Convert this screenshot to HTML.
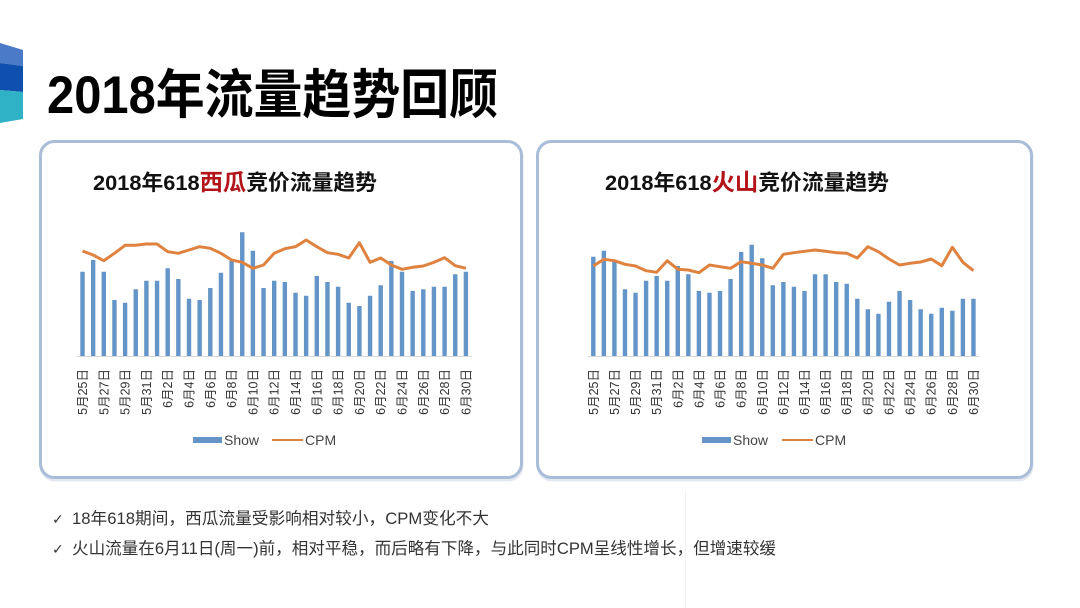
<!DOCTYPE html>
<html><head><meta charset="utf-8"><style>
html,body{margin:0;padding:0;background:#fff;}
svg{display:block;}
.t{font-family:"Liberation Sans","Noto Sans CJK SC",sans-serif;}
</style></head><body>
<svg width="1080" height="608" viewBox="0 0 1080 608" xmlns="http://www.w3.org/2000/svg" class="t">
<rect width="1080" height="608" fill="#fff"/>
<!-- decor -->
<polygon points="0,43 23,50 23,66 0,63" fill="#4a7ac8"/>
<polygon points="0,63 23,66 23,92 0,90" fill="#0f4fae"/>
<polygon points="0,90 23,92 23,119 0,123" fill="#2fb2c6"/>
<text x="47" y="113" font-size="53" font-weight="bold" fill="#000" textLength="451" lengthAdjust="spacingAndGlyphs">2018年流量趋势回顾</text>

<!-- boxes -->
<rect x="41" y="143" width="481" height="337" rx="14" fill="none" stroke="#e3e8f0" stroke-width="3"/>
<rect x="40.5" y="141.5" width="481" height="336" rx="14" fill="#fff" stroke="#a9bcd8" stroke-width="3"/>
<rect x="538" y="143" width="494" height="337" rx="14" fill="none" stroke="#e3e8f0" stroke-width="3"/>
<rect x="537.5" y="141.5" width="494" height="336" rx="14" fill="#fff" stroke="#a9bcd8" stroke-width="3"/>

<!-- chart titles -->
<text x="93" y="190" font-size="21.5" font-weight="bold" fill="#111" textLength="284" lengthAdjust="spacingAndGlyphs">2018年618<tspan fill="#b3141a" font-size="23">西瓜</tspan>竞价流量趋势</text>
<text x="605" y="190" font-size="21.5" font-weight="bold" fill="#111" textLength="284" lengthAdjust="spacingAndGlyphs">2018年618<tspan fill="#b3141a" font-size="23">火山</tspan>竞价流量趋势</text>

<!-- chart 1 -->
<line x1="77" y1="356.5" x2="472" y2="356.5" stroke="#d9d9d9" stroke-width="1"/>
<path fill="none" stroke="#6395c9" stroke-width="4.4" d="M82.5 356V271.7M93.15 356V260M103.8 356V271.7M114.45 356V300M125.1 356V302.7M135.75 356V289.3M146.4 356V280.7M157.05 356V280.7M167.7 356V268.3M178.35 356V279M189 356V298.7M199.65 356V300M210.3 356V288M220.95 356V272.7M231.6 356V260.7M242.25 356V232.3M252.9 356V250.7M263.55 356V288M274.2 356V280.7M284.85 356V282M295.5 356V292.7M306.15 356V295.7M316.8 356V276M327.45 356V282M338.1 356V286.7M348.75 356V302.7M359.4 356V306M370.05 356V295.7M380.7 356V285.3M391.35 356V261M402 356V271.7M412.65 356V291M423.3 356V289.3M433.95 356V286.7M444.6 356V286.7M455.25 356V274.3M465.9 356V271.7"/>
<polyline fill="none" stroke="#e0823f" stroke-width="3" stroke-linejoin="round" points="82.5,251 93.15,255 103.8,260.7 114.45,253.3 125.1,245.3 135.75,245.3 146.4,244 157.05,244 167.7,251.7 178.35,253.3 189,250 199.65,246.7 210.3,248.3 220.95,253.3 231.6,260 242.25,262.3 252.9,268.3 263.55,265 274.2,253.3 284.85,248.7 295.5,246.7 306.15,240 316.8,246.7 327.45,252.7 338.1,254.3 348.75,258 359.4,242.7 370.05,262.3 380.7,258 391.35,265 402,269.3 412.65,267.3 423.3,266 433.95,262.3 444.6,257.7 455.25,265.7 465.9,268.3"/>
<g font-size="12.5" fill="#333" text-anchor="end">
<text transform="translate(87,369) rotate(-90)">5月25日</text>
<text transform="translate(108.3,369) rotate(-90)">5月27日</text>
<text transform="translate(129.6,369) rotate(-90)">5月29日</text>
<text transform="translate(150.9,369) rotate(-90)">5月31日</text>
<text transform="translate(172.2,369) rotate(-90)">6月2日</text>
<text transform="translate(193.5,369) rotate(-90)">6月4日</text>
<text transform="translate(214.8,369) rotate(-90)">6月6日</text>
<text transform="translate(236.1,369) rotate(-90)">6月8日</text>
<text transform="translate(257.4,369) rotate(-90)">6月10日</text>
<text transform="translate(278.7,369) rotate(-90)">6月12日</text>
<text transform="translate(300,369) rotate(-90)">6月14日</text>
<text transform="translate(321.3,369) rotate(-90)">6月16日</text>
<text transform="translate(342.6,369) rotate(-90)">6月18日</text>
<text transform="translate(363.9,369) rotate(-90)">6月20日</text>
<text transform="translate(385.2,369) rotate(-90)">6月22日</text>
<text transform="translate(406.5,369) rotate(-90)">6月24日</text>
<text transform="translate(427.8,369) rotate(-90)">6月26日</text>
<text transform="translate(449.1,369) rotate(-90)">6月28日</text>
<text transform="translate(470.4,369) rotate(-90)">6月30日</text>
</g>
<rect x="193" y="437" width="29" height="6" fill="#6395c9"/>
<text x="224" y="445" font-size="14" fill="#444">Show</text>
<line x1="272" y1="440" x2="303" y2="440" stroke="#e0823f" stroke-width="2"/>
<text x="305" y="445" font-size="14" fill="#444">CPM</text>

<!-- chart 2 -->
<line x1="588" y1="356.5" x2="979" y2="356.5" stroke="#d9d9d9" stroke-width="1"/>
<path fill="none" stroke="#6395c9" stroke-width="4.4" d="M593.3 356V256.7M603.86 356V250.7M614.42 356V261.7M624.98 356V289.3M635.54 356V292.7M646.1 356V280.7M656.66 356V276M667.22 356V280.7M677.78 356V266M688.34 356V274.3M698.9 356V291M709.46 356V292.7M720.02 356V291M730.58 356V279M741.14 356V252M751.7 356V244.7M762.26 356V258.3M772.82 356V285.3M783.38 356V282M793.94 356V286.7M804.5 356V291M815.06 356V274.3M825.62 356V274.3M836.18 356V282M846.74 356V283.7M857.3 356V298.7M867.86 356V309.3M878.42 356V313.7M888.98 356V301.7M899.54 356V291M910.1 356V300M920.66 356V309.3M931.22 356V313.7M941.78 356V307.7M952.34 356V310.7M962.9 356V298.7M973.46 356V298.7"/>
<polyline fill="none" stroke="#e0823f" stroke-width="3" stroke-linejoin="round" points="593.3,266 603.86,259.3 614.42,260.7 624.98,264.3 635.54,266 646.1,270.7 656.66,272.3 667.22,260.7 677.78,269.3 688.34,270 698.9,272.7 709.46,265 720.02,266.7 730.58,268.3 741.14,261.7 751.7,263.3 762.26,265 772.82,268.3 783.38,254.3 793.94,252.7 804.5,251.3 815.06,250 825.62,251.3 836.18,252.7 846.74,253.3 857.3,258 867.86,246.7 878.42,251.7 888.98,259 899.54,265 910.1,263.3 920.66,262 931.22,259 941.78,265.7 952.34,247.3 962.9,262.3 973.46,270.7"/>
<g font-size="12.5" fill="#333" text-anchor="end">
<text transform="translate(597.8,369) rotate(-90)">5月25日</text>
<text transform="translate(618.9,369) rotate(-90)">5月27日</text>
<text transform="translate(640,369) rotate(-90)">5月29日</text>
<text transform="translate(661.2,369) rotate(-90)">5月31日</text>
<text transform="translate(682.3,369) rotate(-90)">6月2日</text>
<text transform="translate(703.4,369) rotate(-90)">6月4日</text>
<text transform="translate(724.5,369) rotate(-90)">6月6日</text>
<text transform="translate(745.6,369) rotate(-90)">6月8日</text>
<text transform="translate(766.8,369) rotate(-90)">6月10日</text>
<text transform="translate(787.9,369) rotate(-90)">6月12日</text>
<text transform="translate(809,369) rotate(-90)">6月14日</text>
<text transform="translate(830.1,369) rotate(-90)">6月16日</text>
<text transform="translate(851.2,369) rotate(-90)">6月18日</text>
<text transform="translate(872.4,369) rotate(-90)">6月20日</text>
<text transform="translate(893.5,369) rotate(-90)">6月22日</text>
<text transform="translate(914.6,369) rotate(-90)">6月24日</text>
<text transform="translate(935.7,369) rotate(-90)">6月26日</text>
<text transform="translate(956.8,369) rotate(-90)">6月28日</text>
<text transform="translate(978,369) rotate(-90)">6月30日</text>
</g>
<rect x="702" y="437" width="29" height="6" fill="#6395c9"/>
<text x="733" y="445" font-size="14" fill="#444">Show</text>
<line x1="782" y1="440" x2="813" y2="440" stroke="#e0823f" stroke-width="2"/>
<text x="815" y="445" font-size="14" fill="#444">CPM</text>

<!-- faint separators -->
<line x1="685.5" y1="490" x2="685.5" y2="608" stroke="#f3f3f3" stroke-width="1"/>

<!-- bullets -->
<text x="52" y="524" font-size="14" fill="#333" font-family="DejaVu Sans, sans-serif">✓</text>
<text x="72" y="524" font-size="16.5" fill="#333" textLength="417" lengthAdjust="spacingAndGlyphs">18年618期间，西瓜流量受影响相对较小，CPM变化不大</text>
<text x="52" y="554" font-size="14" fill="#333" font-family="DejaVu Sans, sans-serif">✓</text>
<text x="72" y="554" font-size="16.5" fill="#333" textLength="704" lengthAdjust="spacingAndGlyphs">火山流量在6月11日(周一)前，相对平稳，而后略有下降，与此同时CPM呈线性增长，但增速较缓</text>
</svg>
</body></html>
